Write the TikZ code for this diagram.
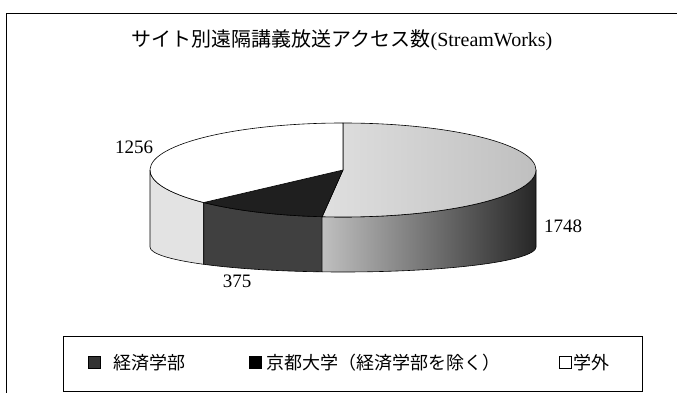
\documentclass[tikz,border=0pt]{standalone}
\usepackage{fontspec}
\setmainfont{Liberation Serif}
\newfontfamily\jpfont{Noto Sans CJK JP}
\usetikzlibrary{calc}

\tikzset{
  pieline/.style={draw=black, line width=0.6pt, line join=round},
  valuelabel/.style={font=\fontsize{19}{19}\selectfont, inner sep=0pt},
  keybox/.style={draw=black, line width=0.6pt, minimum size=12pt, inner sep=0pt},
  keytext/.style={font=\jpfont\fontsize{18}{18}\selectfont, anchor=west, inner sep=0pt},
}

\begin{document}
\begin{tikzpicture}[x=1pt,y=1pt]
            \useasboundingbox[fill=white] (0,0) rectangle (677,-393);
            \draw[line width=0.8pt] (677,-13) -- (6,-13) -- (6,-393);

            \node[font=\fontsize{20}{20}\selectfont, inner sep=0pt] (title) at (342,-40)
                {{\jpfont サイト別遠隔講義放送アクセス数}(StreamWorks)};

            \coordinate (top) at (343,-170);
            \coordinate (bot) at (343,-247);

            \path[pieline, fill=gray!22] ($(top)+(-180:193 and 47)$) arc[start angle=-180, end angle=-136.2, x radius=193, y radius=47]
                -- ($(bot)+(-136.2:193 and 25)$) arc[start angle=-136.2, end angle=-180, x radius=193, y radius=25] -- cycle;
            \path[pieline, fill=black!75] ($(top)+(-136.2:193 and 47)$) arc[start angle=-136.2, end angle=-96.2, x radius=193, y radius=47]
                -- ($(bot)+(-96.2:193 and 25)$) arc[start angle=-96.2, end angle=-136.2, x radius=193, y radius=25] -- cycle;
            \path[pieline, left color=gray!50, right color=black!85] ($(top)+(-96.2:193 and 47)$) arc[start angle=-96.2, end angle=0, x radius=193, y radius=47]
                -- ($(bot)+(0:193 and 25)$) arc[start angle=0, end angle=-96.2, x radius=193, y radius=25] -- cycle;

            \path[pieline, left color=gray!25, right color=gray!50] (top) -- ($(top)+(90:193 and 47)$)
                arc[start angle=90, end angle=-96.2, x radius=193, y radius=47] -- cycle;
            \path[pieline, fill=black!88] (top) -- ($(top)+(-96.2:193 and 47)$)
                arc[start angle=-96.2, end angle=-136.2, x radius=193, y radius=47] -- cycle;
            \path[pieline, fill=white] (top) -- ($(top)+(-136.2:193 and 47)$)
                arc[start angle=-136.2, end angle=-270, x radius=193, y radius=47] -- cycle;

            \node[valuelabel] (v1256) at (134,-147) {1256};
            \node[valuelabel] (v1748) at (563,-226) {1748};
            \node[valuelabel] (v375) at (237,-281) {375};

            \node[draw, line width=0.8pt, minimum width=579pt, minimum height=55pt, inner sep=0pt] (legend) at (352.5,-363.5) {};
            \node[keybox, fill=black!80] (key1) at (94,-362) {};
            \node[keybox, fill=black] (key2) at (255,-362) {};
            \node[keybox, fill=white] (key3) at (565,-362) {};
            \node[keytext] (name1) at (113,-363) {経済学部};
            \node[keytext] (name2) at (266,-363) {京都大学（経済学部を除く）};
            \node[keytext] (name3) at (573,-363) {学外};

        \end{tikzpicture}
\end{document}
